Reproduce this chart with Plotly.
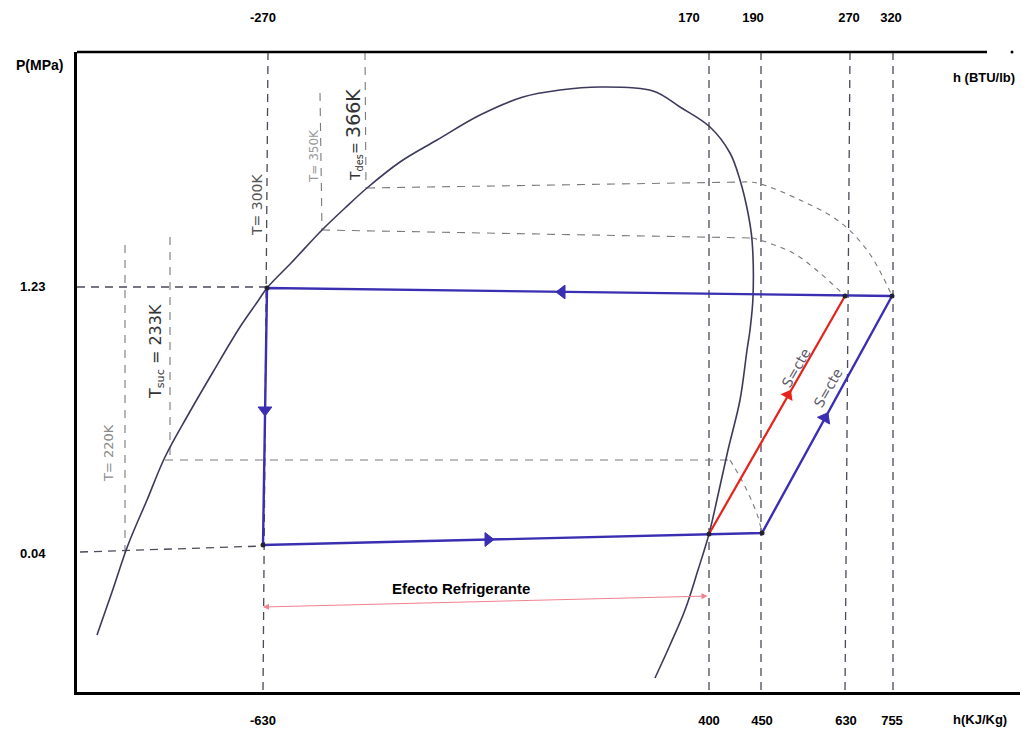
import plotly.graph_objects as go

# ---------------- data (diagram units) ----------------
h_kj_labels = ["-630", "400", "450", "630", "755"]
h_kj_pos = [263, 709, 762, 846, 892]
h_btu_labels = ["-270", "170", "190", "270", "320"]
h_btu_pos = [263, 689, 753, 849, 891]
p_labels = ["1.23", "0.04"]
p_pos = [286, 553]

# saturation dome (liquid line -> critical region -> vapour line)
sat_x = [97, 112, 128, 147, 165, 188, 213, 240, 258, 267, 292, 322, 345, 367, 400, 437,
         480, 523, 560, 600, 653, 680, 710, 730, 740, 748, 752, 753, 750, 747, 740, 728, 718,
         709, 698, 685, 670, 655]
sat_y = [635, 592, 545, 500, 457, 415, 372, 327, 301, 288, 262, 230, 208, 188, 162, 140,
         115, 97, 90, 87, 91, 107, 127, 153, 180, 213, 240, 297, 330, 350, 400, 450, 495,
         534, 570, 610, 645, 678]

# refrigeration cycle states
cycle_x = [892, 267, 263, 709, 762, 892]
cycle_y = [296, 288, 545, 534, 533, 296]
comp_x = [709, 845]
comp_y = [534, 296]
state_x = [267, 263, 709, 762, 892, 845]
state_y = [288, 545, 534, 533, 296, 296]

# flow direction marks
flow_x = [562, 265, 488, 825]
flow_y = [292, 410, 539.5, 418]
flow_sym = ["triangle-left", "triangle-down", "triangle-right", "triangle-up"]
flow_ang = [0, 0, 0, 29]
red_flow_x = [788]
red_flow_y = [395]

# guide lines (pairs of end points)
dark_guides = [((268, 52), (263, 692)), ((77, 287), (267, 287)), ((80, 552), (263, 546)),
               ((709, 52), (709, 692)), ((761, 52), (761, 692)), ((850, 52), (845, 692)),
               ((893, 52), (893, 692))]
light_guides = [((125, 245), (125, 560)), ((170, 237), (170, 460)), ((320, 93), (322, 230)),
                ((365, 52), (366, 188)), ((322, 230), (752, 238)), ((367, 188), (742, 182)),
                ((165, 460), (730, 460))]
iso366_x = [742, 757, 800, 840, 867, 883, 892]
iso366_y = [182, 183, 200, 222, 250, 277, 296]
iso350_x = [752, 760, 793, 820, 845]
iso350_y = [238, 240, 253, 273, 296]
iso233_x = [730, 740, 750, 758, 762]
iso233_y = [460, 477, 497, 517, 533]

BLUE = "#3a2fb2"
PAGE_OFFSET = 8  # default body margin of the html page
X0, X1 = 77, 1020
Y0, Y1 = 692, 52


def seg_xy(segs):
    xs, ys = [], []
    for (a, b) in segs:
        xs += [a[0], b[0], None]
        ys += [a[1], b[1], None]
    return xs, ys


fig = go.Figure()

dx, dy = seg_xy(dark_guides)
fig.add_trace(go.Scatter(x=dx, y=dy, mode="lines", line=dict(color="#4a4a5a", width=1.3, dash="8px,6px"),
                         hoverinfo="skip", showlegend=False))
lx, ly = seg_xy(light_guides)
fig.add_trace(go.Scatter(x=lx, y=ly, mode="lines", line=dict(color="#7a7a7a", width=1.1, dash="8px,7px"),
                         hoverinfo="skip", showlegend=False))
for ix, iy in [(iso366_x, iso366_y), (iso350_x, iso350_y), (iso233_x, iso233_y)]:
    fig.add_trace(go.Scatter(x=ix, y=iy, mode="lines", line=dict(color="#7a7a7a", width=1.1, dash="5px,5px", shape="spline"),
                             hoverinfo="skip", showlegend=False))

# saturation dome
fig.add_trace(go.Scatter(x=sat_x, y=sat_y, mode="lines", line=dict(color="#3c3a5c", width=1.6, shape="spline", smoothing=1.0),
                         hoverinfo="skip", showlegend=False))

# cycle
fig.add_trace(go.Scatter(x=cycle_x, y=cycle_y, mode="lines", line=dict(color=BLUE, width=2.4),
                         hoverinfo="skip", showlegend=False))
fig.add_trace(go.Scatter(x=comp_x, y=comp_y, mode="lines", line=dict(color="#e5231c", width=2.2),
                         hoverinfo="skip", showlegend=False))
fig.add_trace(go.Scatter(x=state_x, y=state_y, mode="markers", marker=dict(color="#222233", size=5),
                         hoverinfo="skip", showlegend=False))
fig.add_trace(go.Scatter(x=flow_x, y=flow_y, mode="markers",
                         marker=dict(symbol=flow_sym, angle=flow_ang, color=BLUE, size=12,
                                     line=dict(color=BLUE, width=1)),
                         hoverinfo="skip", showlegend=False))
fig.add_trace(go.Scatter(x=red_flow_x, y=red_flow_y, mode="markers",
                         marker=dict(symbol="triangle-up", angle=30, color="#e5231c", size=12),
                         hoverinfo="skip", showlegend=False))
# helper trace for top (BTU) axis
fig.add_trace(go.Scatter(x=h_btu_pos, y=[p_pos[0]] * len(h_btu_pos), xaxis="x2", mode="markers",
                         marker=dict(opacity=0), hoverinfo="skip", showlegend=False))

ann = []


def A(x, y, text, size=13, color="black", angle=0, bold=False, family="Liberation Sans, Arial"):
    t = f"<b>{text}</b>" if bold else text
    ann.append(dict(x=(x - X0) / (X1 - X0), y=(Y0 - y) / (Y0 - Y1), xref="paper", yref="paper",
                    xanchor="center", yanchor="middle",
                    text=t, showarrow=False, textangle=angle,
                    font=dict(size=size, color=color, family=family)))


A(39, 65, "P(MPa)", 14, bold=True)
A(984, 77, "h (BTU/lb)", 13, bold=True)
A(980, 719, "h(KJ/Kg)", 13, bold=True)
A(461, 588, "Efecto Refrigerante", 15, bold=True)
A(108, 453, "T= 220K", 13, "#8a8a8a", -90, family="DejaVu Sans")
A(156, 352, "T<sub>suc</sub> = 233K", 16, "#333333", -90, family="DejaVu Sans")
A(257, 205, "T= 300K", 14, "#555555", -90, family="DejaVu Sans")
A(314, 156, "T= 350K", 12, "#9a9a9a", -90, family="DejaVu Sans")
A(354, 135, "T<sub>des</sub>= <span style='font-size:19px'>366K</span>", 14, "#333333", -90, family="DejaVu Sans")
A(796, 368, "S=cte", 14, "#5a5a6a", -60, family="DejaVu Sans")
A(828, 388, "S=cte", 14, "#5a5a6a", -60, family="DejaVu Sans")

# refrigerating effect dimension arrow
ann.append(dict(x=263, y=607, ax=709, ay=596, xref="x", yref="y", axref="x", ayref="y",
                text="", showarrow=True, arrowside="end+start", arrowhead=2, arrowsize=1.2,
                arrowwidth=1, arrowcolor="#f28090"))

fig.update_layout(
    width=1032 - PAGE_OFFSET, height=730 - PAGE_OFFSET,
    margin=dict(l=X0 - PAGE_OFFSET, r=12, t=Y1 - PAGE_OFFSET, b=38, autoexpand=False),
    plot_bgcolor="white", paper_bgcolor="white",
    annotations=ann,
    xaxis=dict(range=[X0, X1], showgrid=False, zeroline=False, showline=True, linewidth=3,
               linecolor="black", tickvals=h_kj_pos, ticktext=[f"<b>{t}</b>" for t in h_kj_labels],
               ticks="", ticklabelstandoff=14, tickfont=dict(size=13, color="black", family="Liberation Sans, Arial"),
               automargin=False),
    xaxis2=dict(range=[X0, X1], overlaying="x", side="top", showgrid=False, zeroline=False, showline=False,
                tickvals=h_btu_pos, ticktext=[f"<b>{t}</b>" for t in h_btu_labels], ticks="",
                ticklabelstandoff=26, tickfont=dict(size=13, color="black", family="Liberation Sans, Arial"),
                automargin=False),
    yaxis=dict(range=[Y0, Y1], showgrid=False, zeroline=False, showline=True, linewidth=3,
               linecolor="black", tickvals=p_pos, ticktext=[f"<b>{t}</b>" for t in p_labels],
               ticks="", ticklabelstandoff=26, tickfont=dict(size=13, color="black", family="Liberation Sans, Arial"),
               automargin=False),
    shapes=[
        dict(type="line", xref="paper", yref="paper", x0=0, x1=(987 - X0) / (X1 - X0), y0=1, y1=1,
             line=dict(color="black", width=2.5)),
        dict(type="circle", xref="paper", yref="paper", xsizemode="pixel", ysizemode="pixel",
             xanchor=(1012 - X0) / (X1 - X0), yanchor=1, x0=-1.5, x1=1.5, y0=-1.5, y1=1.5,
             fillcolor="black", line=dict(width=0)),
    ],
)

fig.write_html("out.html")
